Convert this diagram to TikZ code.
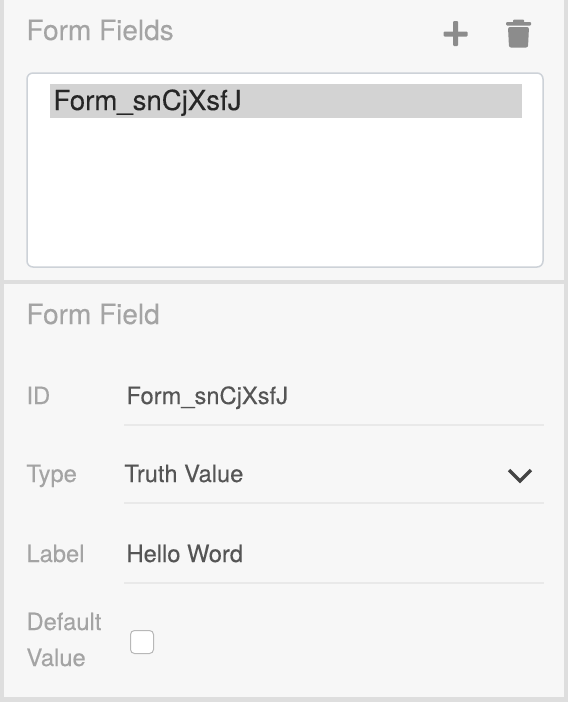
\documentclass[tikz,border=0pt]{standalone}
\usepackage{fontspec}
\setmainfont{TeX Gyre Heros}
\newfontfamily\softheros{TeX Gyre Heros}[FakeBold=0.2]
\definecolor{panel}{HTML}{F7F7F7}
\definecolor{edgegray}{HTML}{DEDEDE}
\definecolor{muted}{HTML}{A4A4A4}
\definecolor{bodytext}{HTML}{555555}
\definecolor{iconcol}{HTML}{8C8C8C}
\definecolor{rulecol}{HTML}{E9E9E9}
\definecolor{boxedge}{HTML}{CDD2D8}
\definecolor{selcol}{HTML}{D3D3D3}
\tikzset{
  txt/.style={anchor=base west,inner sep=0pt,outer sep=0pt},
  heading/.style={txt,text=muted,font=\softheros\fontsize{28}{28}\selectfont},
  flabel/.style={txt,text=muted,font=\softheros\fontsize{23.7}{23.7}\selectfont},
  fvalue/.style={txt,text=bodytext,font=\softheros\fontsize{23.7}{23.7}\selectfont},
  frule/.style={draw=rulecol,line width=1.6pt},
}
\begin{document}
\begin{tikzpicture}[x=1pt,y=-1pt]
\useasboundingbox (0,0) rectangle (570,702);
\fill[white] (0,0) rectangle (570,702);
\fill[edgegray] (0,0) rectangle (568,702);
\fill[panel] (4,0) rectangle (564,280);
\fill[panel] (4,284) rectangle (564,697);
% top section
\node[heading] (t1) at (26.5,40) {Form Fields};
\fill[iconcol,rounded corners=1pt] (443.5,31.5) rectangle (467.5,36.5);
\fill[iconcol,rounded corners=1pt] (453,21) rectangle (458,46);
\fill[iconcol,rounded corners=1pt] (506,22) rectangle (531,25.5);
\fill[iconcol,rounded corners=1pt] (513,19.5) rectangle (524,23);
\fill[iconcol,rounded corners=2pt] (508,27) -- (529,27) -- (528,47.5) -- (509,47.5) -- cycle;
\draw[boxedge,fill=white,line width=1.5pt,rounded corners=6pt] (27,73) rectangle (543,267);
\fill[selcol] (50,84) rectangle (522,118);
\node[txt,text=black!85,font=\softheros\fontsize{27.6}{27.6}\selectfont] (sel) at (53.5,110) {Form\_snCjXsfJ};
% bottom section
\node[heading] (t2) at (26.5,324) {Form Field};
\node[flabel] (l1) at (26.5,404) {ID};
\node[fvalue] (v1) at (126.5,404) {Form\_snCjXsfJ};
\draw[frule] (124,425) -- (544,425);
\node[flabel] (l2) at (26.5,482) {Type};
\node[fvalue] (v2) at (124.5,482) {Truth Value};
\draw[bodytext!80!black,line width=3.4pt] (509,470) -- (520,481) -- (531,470);
\draw[frule] (124,503) -- (544,503);
\node[flabel] (l3) at (26.5,562) {Label};
\node[fvalue] (v3) at (126.5,562) {Hello Word};
\draw[frule] (124,583) -- (544,583);
\node[flabel] (l4) at (26.5,630) {Default};
\node[flabel] (l5) at (26.5,666) {Value};
\draw[black!28,fill=white,line width=1pt,rounded corners=4pt] (130.5,630.5) rectangle (153.5,653.5);
\end{tikzpicture}
\end{document}
